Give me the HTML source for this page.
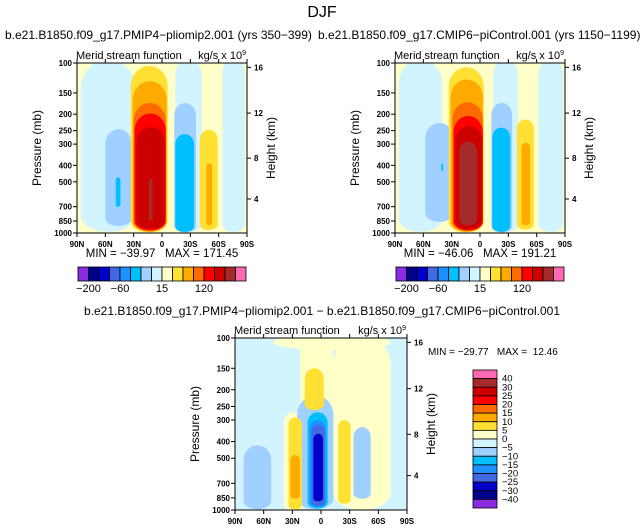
<!DOCTYPE html>
<html><head><meta charset="utf-8">
<style>
body{margin:0;background:#fff;}
svg{display:block;font-family:"Liberation Sans",sans-serif;}
.pre{white-space:pre;}
</style></head><body>
<svg id="fig" width="643" height="530" viewBox="0 0 643 530" xmlns="http://www.w3.org/2000/svg">
<text x="322" y="17" font-size="16" text-anchor="middle">DJF</text>
<text x="5" y="39" font-size="12">b.e21.B1850.f09_g17.PMIP4−pliomip2.001 (yrs 350−399)</text>
<text x="318" y="39" font-size="12">b.e21.B1850.f09_g17.CMIP6−piControl.001 (yrs 1150−1199)</text>
<text x="322" y="315" font-size="12" text-anchor="middle">b.e21.B1850.f09_g17.PMIP4−pliomip2.001 − b.e21.B1850.f09_g17.CMIP6−piControl.001</text>
</svg>
<script>
const colors=["#8a2be2","#00008b","#0000cd","#4169e1","#1e90ff","#00bfff","#a0d0ff","#d1f4ff","#ffffc8","#ffe033","#ffaa00","#ff6a00","#ff0000","#cd0000","#a52a2a","#ff69b4"];
const pTicks=[100,150,200,250,300,400,500,700,850,1000];
const latTicks=[90,60,30,0,-30,-60,-90];
const latLabels=["90N","60N","30N","0","30S","60S","90S"];
const kmTicks=[16,12,8,4];
const kmP=[106,197,363,631];
// blobs: [latN, latS, pTop, pBottom, colorIndex]
const blobsLeft=[[86,28,95,985,7],[-14,-42,95,990,7],[-64,-88,95,985,7],
[60,32,245,910,6],[49,44,470,700,5],
[33,-6,104,992,9],[31,-5,128,985,10],[30,-4,172,975,11],[29,-4,198,965,12],[27,-3,238,950,13],[14,10,480,840,14],
[-13,-36,172,992,6],[-14,-34,262,985,5],
[-40,-59,247,960,9],[-47,-53,390,900,10]];
const blobsRight=[[86,40,95,985,7],[-14,-40,95,990,7],[-62,-88,95,985,7],
[58,28,225,860,6],[41,39,390,430,5],
[33,-4,106,992,9],[31,-3,125,985,10],[29,-3,170,975,11],[28,-3,205,965,12],[26,-2,235,950,13],[22,3,290,900,14],
[-12,-34,172,992,6],[-13,-32,240,985,5],
[-39,-57,215,955,9],[-44,-53,295,900,10]];
const blobsDiff=[[50,-73,95,118,8],[-13,-73,95,1000,8],[39,18,270,1010,8],[22,-13,95,290,8],
[81,52,420,990,6],[25,-13,215,990,6],
[17,-3,150,262,9],
[14,-7,270,980,5],[12,-5,300,960,4],[10,-4,320,950,3],[8,-2,360,890,2],
[34,20,290,990,9],[32,22,480,860,10],
[-18,-31,300,920,9],
[-34,-52,330,860,6]];
const panels=[
 {x:77,y:63,w:170,h:170,bg:"#ffffc8",blobs:blobsLeft,min:"−39.97",max:"171.45"},
 {x:395,y:63,w:170,h:170,bg:"#ffffc8",blobs:blobsRight,min:"−46.06",max:"191.21"},
 {x:235,y:338,w:172,h:172,bg:"#d1f4ff",blobs:blobsDiff}
];
const NS="http://www.w3.org/2000/svg";
const svg=document.getElementById('fig');
function mk(t,a,par){const e=document.createElementNS(NS,t);for(const k in a)e.setAttribute(k,a[k]);(par||svg).appendChild(e);return e;}
function blobPath(x1,y1,x2,y2){
 const w=x2-x1,h=y2-y1,rx=w/2;
 const ct=Math.min(w*0.55,h/2),cb=Math.min(w*0.3,h/2);
 return `M${x1},${y1+ct} A${rx},${ct} 0 0 1 ${x2},${y1+ct} L${x2},${y2-cb} A${rx},${cb} 0 0 1 ${x1},${y2-cb} Z`;
}
panels.forEach((P,pi)=>{
 const xs=lat=>P.x+(90-lat)/180*P.w;
 const ys=p=>P.y+P.h-Math.log10(1000/p)*P.h;
 const g=mk('g',{});
 
 
 const cp=mk('clipPath',{id:'cp'+pi},g);mk('rect',{x:P.x,y:P.y,width:P.w,height:P.h},cp);
 const bg=mk('rect',{x:P.x,y:P.y,width:P.w,height:P.h,fill:P.bg},g);
 
 
 const inner=mk('g',{'clip-path':'url(#cp'+pi+')'},g);
 P.blobs.forEach(b=>{
  const r=mk('path',{d:blobPath(xs(b[0]),ys(b[2]),xs(b[1]),ys(b[3])),fill:colors[b[4]]},inner);
  
  
 });
 mk('rect',{x:P.x,y:P.y,width:P.w,height:P.h,fill:'none',stroke:'#000','stroke-width':1},g);
 pTicks.forEach(p=>{const y=ys(p);mk('line',{x1:P.x-4,x2:P.x,y1:y,y2:y,stroke:'#000'},g);
  const t=mk('text',{x:P.x-5,y:y+3,'font-size':8,'font-weight':'bold','text-anchor':'end'},g);t.textContent=p;
  
  });
 latTicks.forEach((l,i)=>{const x=xs(l);mk('line',{x1:x,x2:x,y1:P.y+P.h,y2:P.y+P.h+4,stroke:'#000'},g);mk('line',{x1:x,x2:x,y1:P.y,y2:P.y-4,stroke:'#000'},g);
  const t=mk('text',{x:x,y:P.y+P.h+14,'font-size':8,'font-weight':'bold','text-anchor':'middle'},g);t.textContent=latLabels[i];
  
  });
 kmTicks.forEach((k,i)=>{const y=ys(kmP[i]);mk('line',{x1:P.x+P.w,x2:P.x+P.w+4,y1:y,y2:y,stroke:'#000'},g);
  const t=mk('text',{x:P.x+P.w+7,y:y+3,'font-size':8,'font-weight':'bold'},g);t.textContent=k;
  
  });
 const ax=P.x-36,bx=P.x+P.w+28,cy=P.y+P.h/2;
 let t=mk('text',{x:ax,y:cy,'font-size':12,'text-anchor':'middle',transform:`rotate(-90 ${ax} ${cy})`},g);t.textContent='Pressure (mb)';
 
 
 t=mk('text',{x:bx,y:cy,'font-size':12,'text-anchor':'middle',transform:`rotate(-90 ${bx} ${cy})`},g);t.textContent='Height (km)';
 
 
 t=mk('text',{x:P.x-1,y:P.y-4,'font-size':11},g);t.textContent='Merid stream function';
 
 
 t=mk('text',{x:P.x+P.w-1,y:P.y-4,'font-size':11,'text-anchor':'end'},g);t.innerHTML='kg/s x 10<tspan font-size="7" dy="-4">9</tspan>';
 
 
 if(P.min){t=mk('text',{x:P.x+P.w/2,y:P.y+P.h+24,'font-size':11.5,'text-anchor':'middle','class':'pre'},g);t.textContent='MIN = '+P.min+'   MAX = '+P.max;
  
  
  const cb=mk('g',{},g);
  
  
  const bw=(P.w-2)/colors.length;
  colors.forEach((c,i)=>{const r=mk('rect',{x:P.x+1+i*bw,y:P.y+P.h+34,width:bw,height:14,fill:c,stroke:'#000','stroke-width':0.8},cb);
   
   });
  [["−200",1],["−60",4],["15",8],["120",12]].forEach(([s,i])=>{const tt=mk('text',{x:P.x+1+i*bw,y:P.y+P.h+59,'font-size':11,'text-anchor':'middle'},cb);tt.textContent=s;
   
   });
 }
});
const diffLabels=["40","30","25","20","15","10","5","0","−5","−10","−15","−20","−25","−30","−40"];
const cb=mk('g',{});


let mm=mk('text',{x:428,y:355,'font-size':10,'class':'pre'},cb);mm.textContent='MIN = −29.77   MAX =  12.46';


const bh=138/16;
for(let i=0;i<16;i++){const r=mk('rect',{x:473,y:370+i*bh,width:24,height:bh,fill:colors[15-i],stroke:'#000','stroke-width':0.8},cb);
 
 }
diffLabels.forEach((s,i)=>{const t=mk('text',{x:502,y:370+(i+1)*bh+3,'font-size':9.5},cb);t.textContent=s;
 
 });
</script>
</body></html>
